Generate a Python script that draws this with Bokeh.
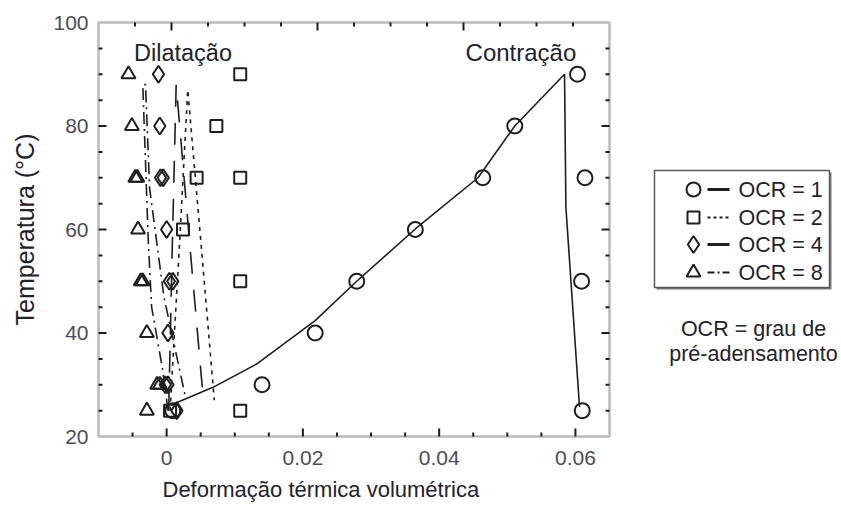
import math
from bokeh.plotting import figure
from bokeh.models import Range1d, FixedTicker, Label, Title, CustomJSTickFormatter, BoxAnnotation
from bokeh.embed import file_html
from bokeh.resources import INLINE

FONT = "Liberation Sans"
INK = "#1e1e1e"
TEXT = "#22222e"
TICK_TEXT = "#4c4c58"

# ---- measured points (temperature in degC, volumetric thermal strain) ----
# OCR = 1 (contraction)
ocr1_temp = [25, 30, 40, 50, 60, 70, 80, 90, 70, 50, 25]
ocr1_strain = [0.0009, 0.0140, 0.0218, 0.0279, 0.0365, 0.0464, 0.0511, 0.0603, 0.0614, 0.0609, 0.0610]
# OCR = 2
ocr2_temp = [25, 60, 70, 80, 90, 70, 50, 25]
ocr2_strain = [0.0005, 0.0024, 0.0044, 0.0073, 0.0108, 0.0108, 0.0108, 0.0108]
# OCR = 4
ocr4_temp = [25, 30, 30, 40, 50, 50, 60, 70, 70, 80, 90]
ocr4_strain = [0.0015, -0.0002, 0.0002, 0.0002, 0.0004, 0.0009, 0.0000, -0.0009, -0.0005, -0.0010, -0.0012]
# OCR = 8 (dilatation)
ocr8_temp = [25, 30, 30, 40, 50, 50, 60, 70, 70, 80, 90]
ocr8_strain = [-0.0029, -0.0014, -0.0010, -0.0029, -0.0038, -0.0035, -0.0042, -0.0046, -0.0043, -0.0051, -0.0056]

# ---- model curves ----
model1_strain = [0.0010, 0.0068, 0.0132, 0.0218, 0.0279, 0.0365, 0.0457, 0.0511, 0.0584, 0.0586, 0.0606]
model1_temp = [26.3, 29.5, 34.0, 42.4, 50.0, 60.1, 70.0, 80.0, 90.0, 64.3, 25.7]
model2_strain = [0.0005, 0.0018, 0.0031, 0.0050, 0.0070]
model2_temp = [25, 55, 87, 58, 27]
model4_strain = [0.0003, 0.0008, 0.0014, 0.0034, 0.0054]
model4_temp = [25, 55, 88, 57, 27]
model8_strain = [0.0002, -0.0006, -0.0022, -0.0027, -0.0035, -0.0031, -0.0025, -0.0012, -0.0004, 0.0027]
model8_temp = [25, 33, 45, 58, 88, 88, 68, 55, 47, 28]

# ---- axis limits and ticks ----
X_MIN, X_MAX = -0.01, 0.065
Y_MIN, Y_MAX = 20, 100
x_major = [0, 0.02, 0.04, 0.06]
x_minor = [-0.005, 0.005, 0.01, 0.015, 0.025, 0.03, 0.035, 0.045, 0.05, 0.055]
# the mirrored top scale runs from -0.01 to 0.06 across the box
TOP_MIN, TOP_MAX = -0.01, 0.06
top_major = [0, 0.02, 0.04]
top_minor = [-0.005, 0.005, 0.01, 0.015, 0.025, 0.03, 0.035, 0.045, 0.05, 0.055]
y_major = [40, 60, 80]
y_minor = [25, 30, 35, 45, 50, 55, 65, 70, 75, 85, 90, 95]
y_labels = [20, 40, 60, 80, 100]

legend_labels = ["OCR = 1", "OCR = 2", "OCR = 4", "OCR = 8"]
legend_markers = ["circle", "square", "diamond", "triangle"]
legend_dashes = ["solid", "3 3", "solid", "7 3 2 3"]
legend_widths = [3, 2, 3, 2]

# ---- layout: plot box 511 x 414 px, key area to its right in the same frame ----
WIDTH, HEIGHT = 841, 511
BOX_W, BOX_H = 511, 414
PAD = 3
LEFT, TOP, BOTTOM = 98 - PAD, 22 - PAD, 511 - 436 - PAD
FRAME_W = WIDTH - LEFT
FRAME_H = HEIGHT - TOP - BOTTOM

sx = BOX_W / (X_MAX - X_MIN)
sy = BOX_H / (Y_MAX - Y_MIN)
st = BOX_W / (TOP_MAX - TOP_MIN)
x0 = X_MIN - PAD / sx
y0 = Y_MIN - PAD / sy
t0 = TOP_MIN - PAD / st

p = figure(width=WIDTH, height=HEIGHT,
           x_range=Range1d(x0, x0 + FRAME_W / sx), y_range=Range1d(y0, y0 + FRAME_H / sy),
           output_backend="svg", toolbar_location=None,
           min_border_left=LEFT, min_border_right=0, min_border_top=TOP, min_border_bottom=BOTTOM)
p.extra_x_ranges = {"top": Range1d(t0, t0 + FRAME_W / st), "kx": Range1d(LEFT, WIDTH)}
p.extra_y_ranges = {"ky": Range1d(TOP + FRAME_H, TOP)}
p.grid.visible = False
p.outline_line_color = None
p.background_fill_color = "white"
p.border_fill_color = "white"

p.xaxis.ticker = FixedTicker(ticks=x_major, minor_ticks=[])
p.xaxis.formatter = CustomJSTickFormatter(code="return tick === 0 ? '0' : tick.toFixed(2);")
p.yaxis.ticker = FixedTicker(ticks=y_labels, minor_ticks=[])
for ax in p.axis:
    ax.axis_line_color = None
    ax.major_tick_in = 0
    ax.major_tick_out = 0
    ax.minor_tick_in = 0
    ax.minor_tick_out = 0
    ax.major_label_text_font = FONT
    ax.major_label_text_font_size = "21px"
    ax.major_label_text_color = TICK_TEXT
p.below[0].major_label_standoff = 14 - PAD
p.left[0].major_label_standoff = 10 - PAD

p.left[0].axis_label = "Temperatura (°C)"
p.left[0].axis_label_text_font = FONT
p.left[0].axis_label_text_font_size = "25px"
p.left[0].axis_label_text_font_style = "normal"
p.left[0].axis_label_text_color = TEXT
p.left[0].axis_label_standoff = 11

p.add_layout(Title(text="Deformação térmica volumétrica", align="left", offset=64 + PAD, standoff=14,
                   text_font=FONT, text_font_size="22px", text_font_style="normal",
                   text_color=TEXT), "below")

# plot box
p.add_layout(BoxAnnotation(left=X_MIN, right=X_MAX, bottom=Y_MIN, top=Y_MAX,
                           fill_color=None, line_color=INK, line_width=2.5, level="underlay"))

# inward tick marks on all four sides (dash markers, length in px)
MAJOR_LEN, MINOR_LEN = 8, 4
tick_style = dict(marker="dash", line_color=INK, line_width=2)
for ticks, L in ((x_major, MAJOR_LEN), (x_minor, MINOR_LEN)):
    p.scatter(x=list(ticks), y=[Y_MIN + L / 2 / sy] * len(ticks), size=L, angle=math.pi / 2, **tick_style)
for ticks, L in ((top_major, MAJOR_LEN), (top_minor, MINOR_LEN)):
    p.scatter(x=list(ticks), y=[Y_MAX - L / 2 / sy] * len(ticks), size=L, angle=math.pi / 2,
              x_range_name="top", **tick_style)
for ticks, L in ((y_major, MAJOR_LEN), (y_minor, MINOR_LEN)):
    p.scatter(x=[X_MIN + L / 2 / sx] * len(ticks), y=list(ticks), size=L, **tick_style)
    p.scatter(x=[X_MAX - L / 2 / sx] * len(ticks), y=list(ticks), size=L, **tick_style)

# model curves
p.line(model1_strain, model1_temp, line_color=INK, line_width=1.6)
p.line(model2_strain, model2_temp, line_color=INK, line_width=1.6, line_dash="4 5")
p.line(model4_strain, model4_temp, line_color=INK, line_width=1.6, line_dash="22 16")
p.line(model8_strain, model8_temp, line_color=INK, line_width=1.6, line_dash="12 5 2 5")

# measured points
p.scatter(ocr1_strain, ocr1_temp, marker="circle", size=15, fill_color=None, line_color=INK, line_width=2)
p.scatter(ocr2_strain, ocr2_temp, marker="square", size=12, fill_color=None, line_color=INK, line_width=2)
p.scatter(ocr4_strain, ocr4_temp, marker="diamond", size=17, fill_color=None, line_color=INK, line_width=2)
p.scatter(ocr8_strain, ocr8_temp, marker="triangle", size=14, fill_color=None, line_color=INK, line_width=2)

p.add_layout(Label(x=0.0024, y=94.2, text="Dilatação", text_align="center", text_baseline="middle",
                   text_font=FONT, text_font_size="23.5px", text_color=TEXT))
p.add_layout(Label(x=0.052, y=94.2, text="Contração", text_align="center", text_baseline="middle",
                   text_font=FONT, text_font_size="24px", text_color=TEXT))

# ---- key (pixel-like coordinates of its own) ----
key = dict(x_range_name="kx", y_range_name="ky")
p.quad(left=[656], right=[831], top=[172], bottom=[289], fill_color="#7a7a7a", line_color=None, **key)
p.quad(left=[654], right=[829], top=[170], bottom=[287], fill_color="white", line_color="#5a5a5a",
       line_width=1.5, **key)

rows_y = [189, 217, 244, 272]
marker_size = {"circle": 14, "square": 12, "diamond": 17, "triangle": 14}
for lbl, mk, dash, lw, yy in zip(legend_labels, legend_markers, legend_dashes, legend_widths, rows_y):
    p.scatter([693], [yy], marker=mk, size=marker_size[mk], fill_color=None, line_color=INK,
              line_width=2, **key)
    p.line([707, 729], [yy, yy], line_color=INK, line_width=lw, line_dash=dash, **key)
    p.add_layout(Label(x=738, y=yy, text=lbl, text_align="left", text_baseline="middle",
                       text_font=FONT, text_font_size="21.5px", text_color=TEXT, **key))

p.add_layout(Label(x=753, y=328, text="OCR = grau de", text_align="center", text_baseline="middle",
                   text_font=FONT, text_font_size="21.5px", text_color=TEXT, **key))
p.add_layout(Label(x=753, y=353, text="pré-adensamento", text_align="center", text_baseline="middle",
                   text_font=FONT, text_font_size="21.5px", text_color=TEXT, **key))

open("out.html", "w").write(file_html(p, INLINE))
